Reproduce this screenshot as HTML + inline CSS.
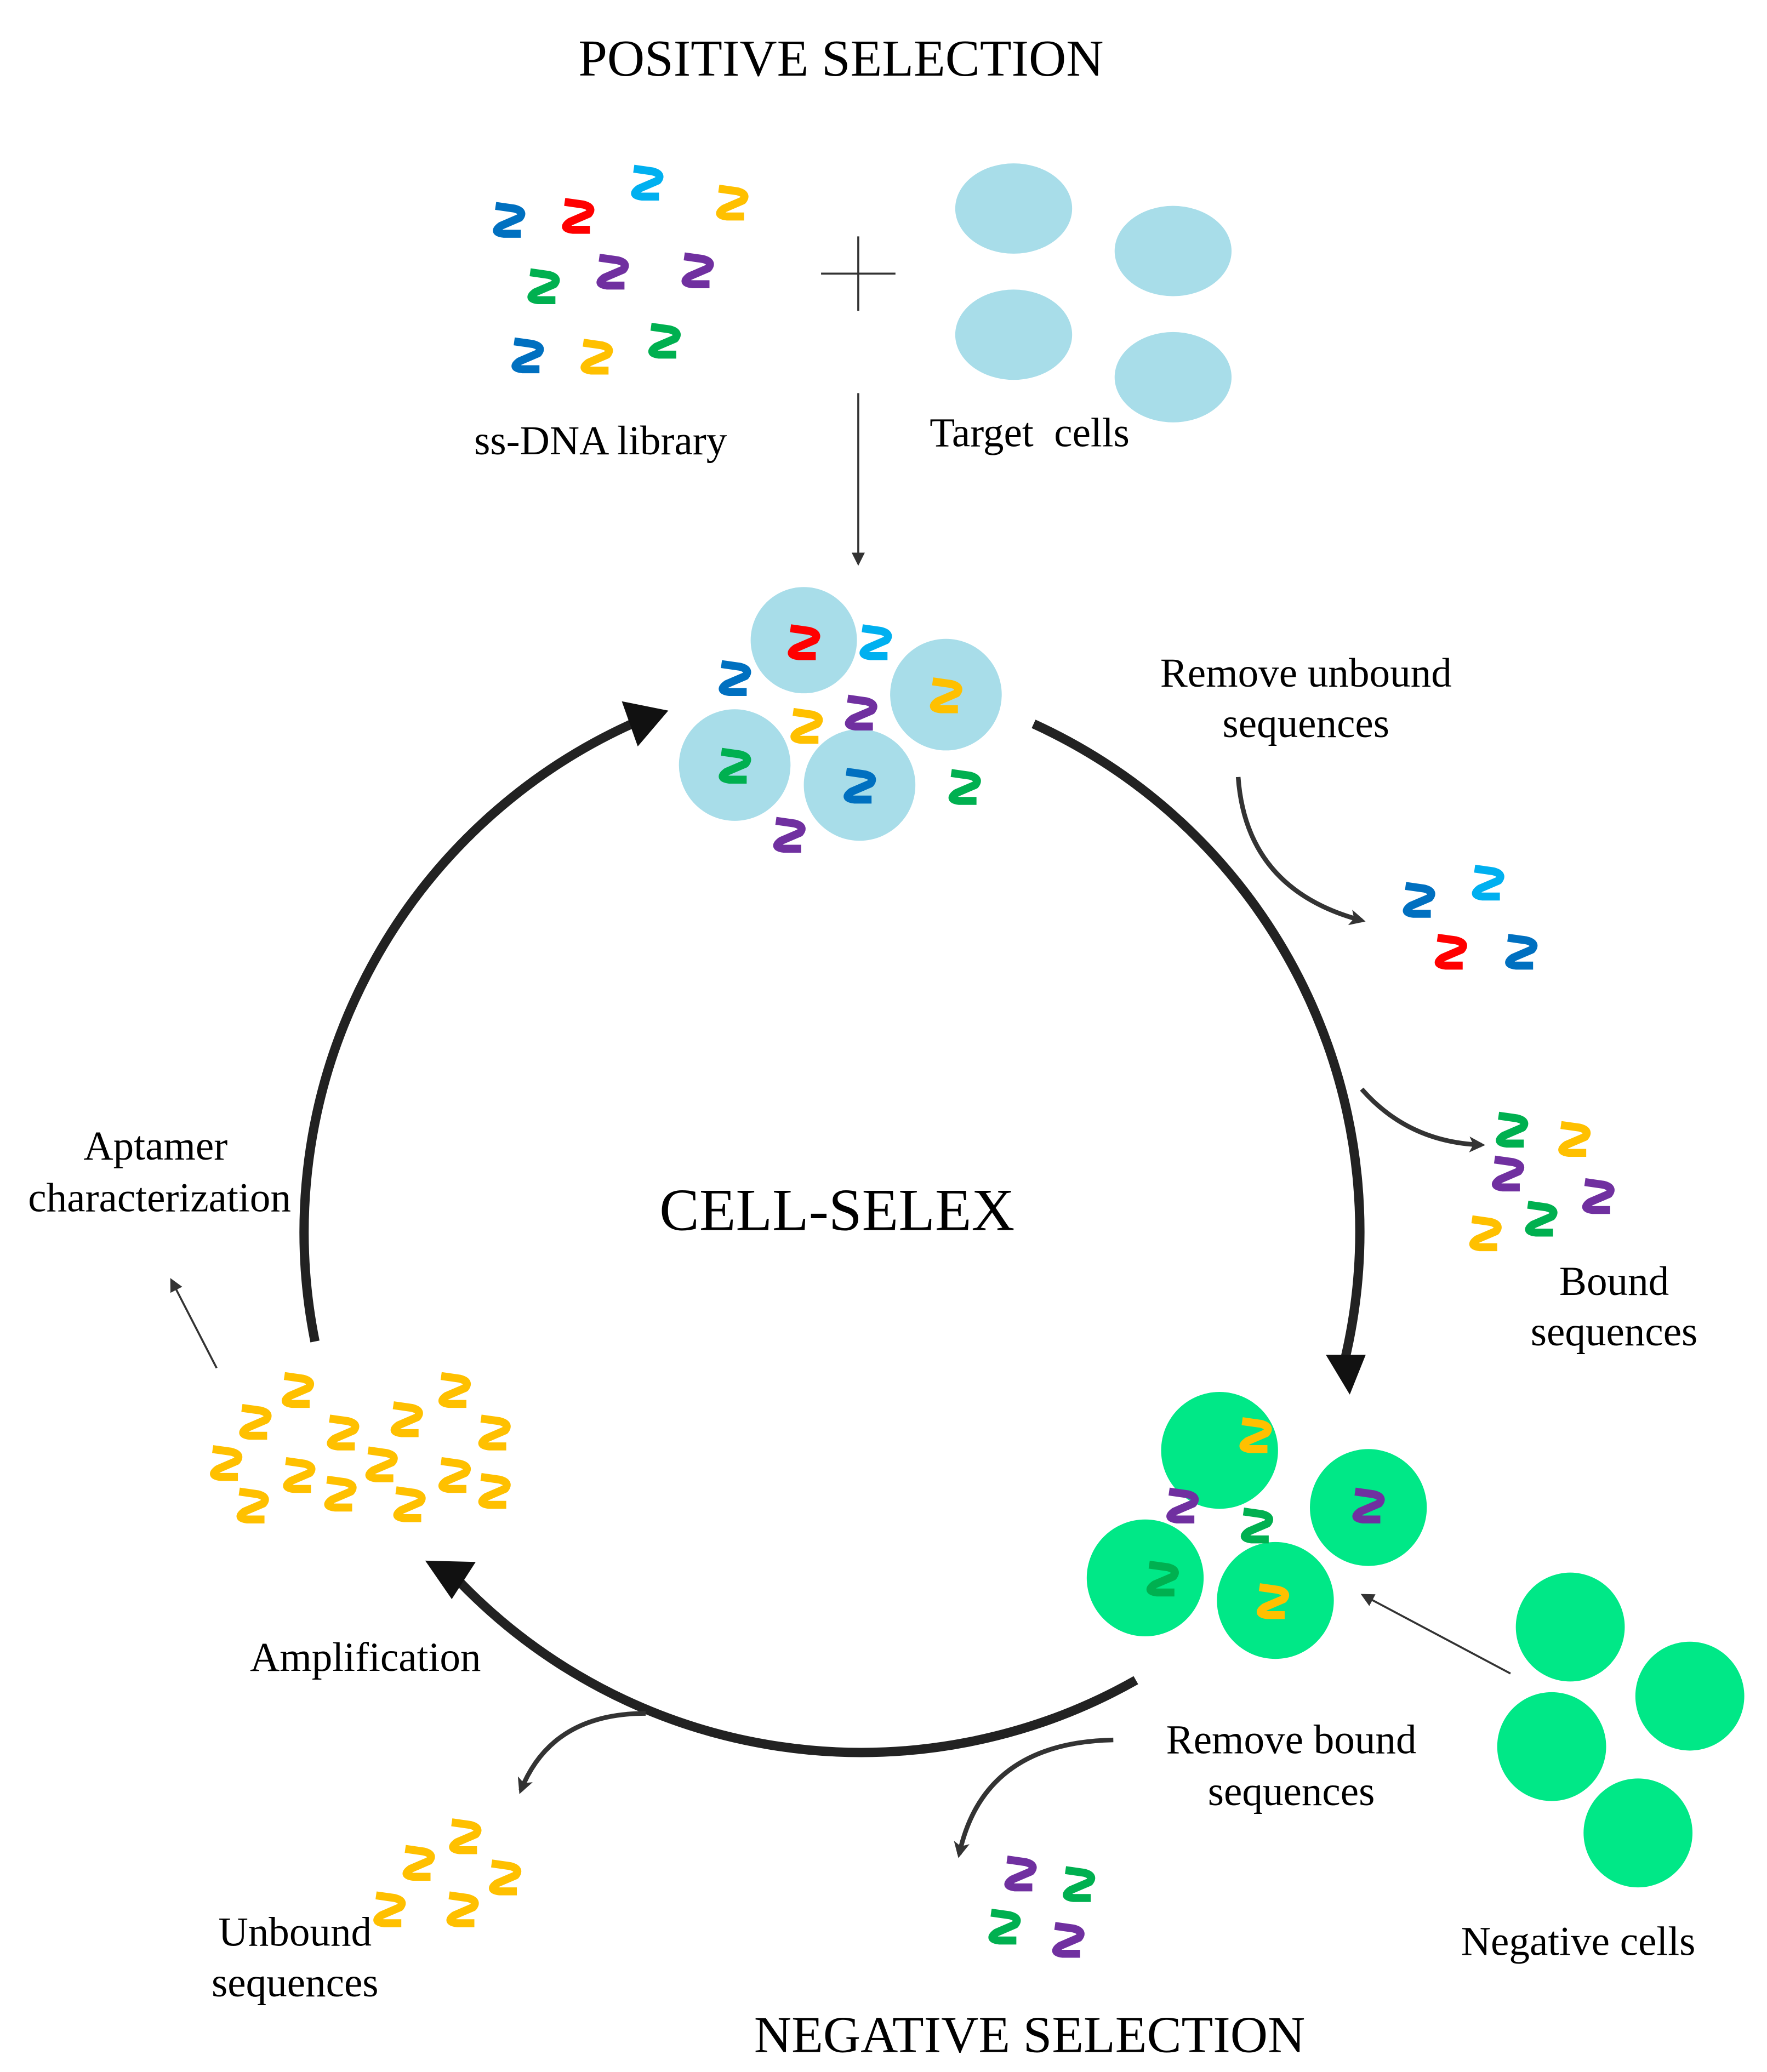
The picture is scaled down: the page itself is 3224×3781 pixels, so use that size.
<!DOCTYPE html>
<html><head><meta charset="utf-8"><style>
html,body{margin:0;padding:0;background:#fff;}
svg{display:block;}
text{font-family:"Liberation Serif",serif;fill:#000;}
</style></head><body>
<svg width="3224" height="3781" viewBox="0 0 1330 1560" xmlns="http://www.w3.org/2000/svg">
<defs>
<path id="z" d="M-10,-10 L4,-8 Q12,-6 8,-1 L-6,5 Q-13,10 -4,11 L9,11" fill="none" stroke-width="6" stroke-linecap="butt" stroke-linejoin="round"/>
<marker id="ah" markerWidth="10" markerHeight="10" refX="8" refY="5" orient="auto" markerUnits="userSpaceOnUse"><path d="M0,0 L10,5 L0,10 Z" fill="#333"/></marker>
<marker id="ahs" markerWidth="12" markerHeight="12" refX="9" refY="6" orient="auto" markerUnits="userSpaceOnUse"><path d="M0,0 L12,6 L0,12 L3,6 Z" fill="#333"/></marker>
</defs>

<text x="633" y="57" font-size="39" text-anchor="middle">POSITIVE SELECTION</text>

<g>
<use href="#z" x="383" y="165" stroke="#0070c0"/>
<use href="#z" x="435" y="162" stroke="#ff0000"/>
<use href="#z" x="487" y="137" stroke="#00b0f0"/>
<use href="#z" x="551" y="152" stroke="#ffc000"/>
<use href="#z" x="409" y="215" stroke="#00b050"/>
<use href="#z" x="461" y="204" stroke="#7030a0"/>
<use href="#z" x="525" y="203" stroke="#7030a0"/>
<use href="#z" x="397" y="267" stroke="#0070c0"/>
<use href="#z" x="449" y="268" stroke="#ffc000"/>
<use href="#z" x="500" y="256" stroke="#00b050"/>
</g>
<path d="M618,206 H674 M646,178 V234" stroke="#333" stroke-width="1.5"/>
<ellipse cx="763" cy="157" rx="44" ry="34" fill="#a8dde9"/>
<ellipse cx="883" cy="189" rx="44" ry="34" fill="#a8dde9"/>
<ellipse cx="763" cy="252" rx="44" ry="34" fill="#a8dde9"/>
<ellipse cx="883" cy="284" rx="44" ry="34" fill="#a8dde9"/>
<text x="452" y="342" font-size="31" text-anchor="middle">ss-DNA library</text>
<text x="775" y="336" font-size="31" text-anchor="middle" xml:space="preserve">Target  cells</text>
<line x1="646" y1="296" x2="646" y2="424" stroke="#333" stroke-width="1.5" marker-end="url(#ah)"/>

<circle cx="605" cy="482" r="40" fill="#a8dde9"/>
<circle cx="712" cy="523" r="42" fill="#a8dde9"/>
<circle cx="553" cy="576" r="42" fill="#a8dde9"/>
<circle cx="647" cy="591" r="42" fill="#a8dde9"/>
<use href="#z" x="605" y="483" stroke="#ff0000"/>
<use href="#z" x="659" y="483" stroke="#00b0f0"/>
<use href="#z" x="553" y="510" stroke="#0070c0"/>
<use href="#z" x="712" y="523" stroke="#ffc000"/>
<use href="#z" x="607" y="546" stroke="#ffc000"/>
<use href="#z" x="648" y="536" stroke="#7030a0"/>
<use href="#z" x="553" y="576" stroke="#00b050"/>
<use href="#z" x="647" y="591" stroke="#0070c0"/>
<use href="#z" x="726" y="592" stroke="#00b050"/>
<use href="#z" x="594" y="628" stroke="#7030a0"/>

<text x="983" y="517" font-size="31" text-anchor="middle">Remove unbound</text>
<text x="983" y="555" font-size="31" text-anchor="middle">sequences</text>
<path d="M932,585 Q938,670 1025,693" fill="none" stroke="#333" stroke-width="3.5" marker-end="url(#ahs)"/>
<use href="#z" x="1068" y="677" stroke="#0070c0"/>
<use href="#z" x="1120" y="664" stroke="#00b0f0"/>
<use href="#z" x="1092" y="716" stroke="#ff0000"/>
<use href="#z" x="1145" y="716" stroke="#0070c0"/>
<path d="M1025,820 Q1060,860 1115,862" fill="none" stroke="#333" stroke-width="3.5" marker-end="url(#ahs)"/>
<use href="#z" x="1138" y="850" stroke="#00b050"/>
<use href="#z" x="1185" y="857" stroke="#ffc000"/>
<use href="#z" x="1135" y="883" stroke="#7030a0"/>
<use href="#z" x="1203" y="900" stroke="#7030a0"/>
<use href="#z" x="1118" y="928" stroke="#ffc000"/>
<use href="#z" x="1160" y="917" stroke="#00b050"/>
<text x="1215" y="975" font-size="31" text-anchor="middle">Bound</text>
<text x="1215" y="1013" font-size="31" text-anchor="middle">sequences</text>

<path d="M778,545 A420,420 0 0 1 1012,1025" fill="none" stroke="#222" stroke-width="7"/>
<path d="M998,1020 L1028,1020 L1016,1050 Z" fill="#111"/>
<path d="M855,1265 A420,420 0 0 1 345,1190" fill="none" stroke="#222" stroke-width="7"/>
<path d="M320,1175 L358,1176 L340,1204 Z" fill="#111"/>
<path d="M237,1010 A420,420 0 0 1 480,543" fill="none" stroke="#222" stroke-width="7"/>
<path d="M503,535 L468,528 L480,562 Z" fill="#111"/>

<text x="630" y="926" font-size="45" text-anchor="middle">CELL-SELEX</text>
<text x="117" y="873" font-size="31" text-anchor="middle">Aptamer</text>
<text x="120" y="912" font-size="31" text-anchor="middle">characterization</text>
<line x1="163" y1="1030" x2="129" y2="964" stroke="#333" stroke-width="1.5" marker-end="url(#ah)"/>

<g stroke="#ffc000">
<use href="#z" x="224" y="1046"/><use href="#z" x="342" y="1046"/>
<use href="#z" x="192" y="1070"/><use href="#z" x="258" y="1078"/><use href="#z" x="306" y="1068"/><use href="#z" x="372" y="1078"/>
<use href="#z" x="170" y="1101"/><use href="#z" x="225" y="1110"/><use href="#z" x="287" y="1102"/><use href="#z" x="342" y="1110"/>
<use href="#z" x="190" y="1133"/><use href="#z" x="256" y="1124"/><use href="#z" x="308" y="1132"/><use href="#z" x="372" y="1122"/>
</g>
<text x="275" y="1258" font-size="31" text-anchor="middle">Amplification</text>

<circle cx="918" cy="1092" r="44" fill="#00e887"/>
<circle cx="1030" cy="1135" r="44" fill="#00e887"/>
<circle cx="862" cy="1188" r="44" fill="#00e887"/>
<circle cx="960" cy="1205" r="44" fill="#00e887"/>
<use href="#z" x="945" y="1080" stroke="#ffc000"/>
<use href="#z" x="1030" y="1133" stroke="#7030a0"/>
<use href="#z" x="890" y="1133" stroke="#7030a0"/>
<use href="#z" x="946" y="1148" stroke="#00b050"/>
<use href="#z" x="875" y="1188" stroke="#00b050"/>
<use href="#z" x="958" y="1205" stroke="#ffc000"/>
<circle cx="1182" cy="1225" r="41" fill="#00e887"/>
<circle cx="1272" cy="1277" r="41" fill="#00e887"/>
<circle cx="1168" cy="1315" r="41" fill="#00e887"/>
<circle cx="1233" cy="1380" r="41" fill="#00e887"/>
<line x1="1137" y1="1260" x2="1026" y2="1201" stroke="#333" stroke-width="1.5" marker-end="url(#ah)"/>
<text x="972" y="1320" font-size="31" text-anchor="middle">Remove bound</text>
<text x="972" y="1359" font-size="31" text-anchor="middle">sequences</text>
<text x="1188" y="1472" font-size="31" text-anchor="middle">Negative cells</text>
<path d="M838,1310 Q740,1312 722,1396" fill="none" stroke="#333" stroke-width="3.5" marker-end="url(#ahs)"/>
<use href="#z" x="768" y="1410" stroke="#7030a0"/>
<use href="#z" x="812" y="1418" stroke="#00b050"/>
<use href="#z" x="756" y="1450" stroke="#00b050"/>
<use href="#z" x="804" y="1460" stroke="#7030a0"/>
<path d="M486,1290 Q415,1290 392,1348" fill="none" stroke="#333" stroke-width="3.5" marker-end="url(#ahs)"/>
<g stroke="#ffc000">
<use href="#z" x="350" y="1382"/><use href="#z" x="315" y="1402"/><use href="#z" x="380" y="1413"/><use href="#z" x="293" y="1437"/><use href="#z" x="348" y="1437"/>
</g>
<text x="222" y="1465" font-size="31" text-anchor="middle">Unbound</text>
<text x="222" y="1503" font-size="31" text-anchor="middle">sequences</text>
<text x="775" y="1545" font-size="39" text-anchor="middle">NEGATIVE SELECTION</text>
</svg>
</body></html>
